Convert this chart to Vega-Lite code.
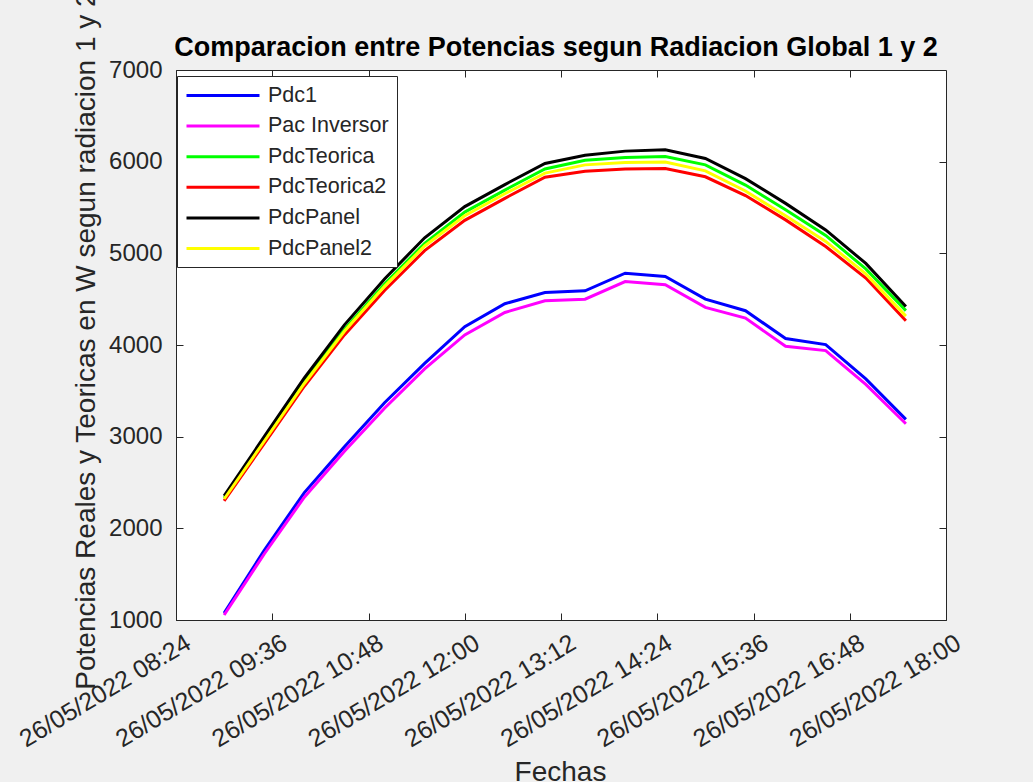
{
  "$schema": "https://vega.github.io/schema/vega-lite/v6.json",
  "autosize": {"type": "none"},
  "width": 770,
  "height": 550,
  "padding": {"left": 176, "top": 70, "right": 87, "bottom": 162},
  "background": "#f0f0f0",
  "title": {
    "text": "Comparacion entre Potencias segun Radiacion Global 1 y 2",
    "font": "Liberation Sans",
    "fontSize": 27,
    "fontWeight": "bold",
    "color": "#000000",
    "anchor": "middle",
    "baseline": "alphabetic",
    "offset": 12,
    "dy": 104,
    "dx": -5
  },
  "datasets": {
    "d": [
      {"t":"2022-05-26T09:00:00","s":"Pdc1","v":1075},{"t":"2022-05-26T09:30:00","s":"Pdc1","v":1760},{"t":"2022-05-26T10:00:00","s":"Pdc1","v":2390},{"t":"2022-05-26T10:30:00","s":"Pdc1","v":2890},{"t":"2022-05-26T11:00:00","s":"Pdc1","v":3370},{"t":"2022-05-26T11:30:00","s":"Pdc1","v":3800},{"t":"2022-05-26T12:00:00","s":"Pdc1","v":4200},{"t":"2022-05-26T12:30:00","s":"Pdc1","v":4450},{"t":"2022-05-26T13:00:00","s":"Pdc1","v":4573},{"t":"2022-05-26T13:30:00","s":"Pdc1","v":4591},{"t":"2022-05-26T14:00:00","s":"Pdc1","v":4783},{"t":"2022-05-26T14:30:00","s":"Pdc1","v":4747},{"t":"2022-05-26T15:00:00","s":"Pdc1","v":4500},{"t":"2022-05-26T15:30:00","s":"Pdc1","v":4374},{"t":"2022-05-26T16:00:00","s":"Pdc1","v":4070},{"t":"2022-05-26T16:30:00","s":"Pdc1","v":4004},{"t":"2022-05-26T17:00:00","s":"Pdc1","v":3630},{"t":"2022-05-26T17:30:00","s":"Pdc1","v":3189},
      {"t":"2022-05-26T09:00:00","s":"Pac Inversor","v":1055},{"t":"2022-05-26T09:30:00","s":"Pac Inversor","v":1720},{"t":"2022-05-26T10:00:00","s":"Pac Inversor","v":2340},{"t":"2022-05-26T10:30:00","s":"Pac Inversor","v":2840},{"t":"2022-05-26T11:00:00","s":"Pac Inversor","v":3310},{"t":"2022-05-26T11:30:00","s":"Pac Inversor","v":3740},{"t":"2022-05-26T12:00:00","s":"Pac Inversor","v":4110},{"t":"2022-05-26T12:30:00","s":"Pac Inversor","v":4355},{"t":"2022-05-26T13:00:00","s":"Pac Inversor","v":4483},{"t":"2022-05-26T13:30:00","s":"Pac Inversor","v":4500},{"t":"2022-05-26T14:00:00","s":"Pac Inversor","v":4692},{"t":"2022-05-26T14:30:00","s":"Pac Inversor","v":4657},{"t":"2022-05-26T15:00:00","s":"Pac Inversor","v":4410},{"t":"2022-05-26T15:30:00","s":"Pac Inversor","v":4293},{"t":"2022-05-26T16:00:00","s":"Pac Inversor","v":3986},{"t":"2022-05-26T16:30:00","s":"Pac Inversor","v":3939},{"t":"2022-05-26T17:00:00","s":"Pac Inversor","v":3570},{"t":"2022-05-26T17:30:00","s":"Pac Inversor","v":3141},
      {"t":"2022-05-26T09:00:00","s":"PdcTeorica","v":2330},{"t":"2022-05-26T09:30:00","s":"PdcTeorica","v":2965},{"t":"2022-05-26T10:00:00","s":"PdcTeorica","v":3600},{"t":"2022-05-26T10:30:00","s":"PdcTeorica","v":4170},{"t":"2022-05-26T11:00:00","s":"PdcTeorica","v":4665},{"t":"2022-05-26T11:30:00","s":"PdcTeorica","v":5110},{"t":"2022-05-26T12:00:00","s":"PdcTeorica","v":5450},{"t":"2022-05-26T12:30:00","s":"PdcTeorica","v":5690},{"t":"2022-05-26T13:00:00","s":"PdcTeorica","v":5920},{"t":"2022-05-26T13:30:00","s":"PdcTeorica","v":6015},{"t":"2022-05-26T14:00:00","s":"PdcTeorica","v":6045},{"t":"2022-05-26T14:30:00","s":"PdcTeorica","v":6055},{"t":"2022-05-26T15:00:00","s":"PdcTeorica","v":5965},{"t":"2022-05-26T15:30:00","s":"PdcTeorica","v":5745},{"t":"2022-05-26T16:00:00","s":"PdcTeorica","v":5475},{"t":"2022-05-26T16:30:00","s":"PdcTeorica","v":5195},{"t":"2022-05-26T17:00:00","s":"PdcTeorica","v":4830},{"t":"2022-05-26T17:30:00","s":"PdcTeorica","v":4375},
      {"t":"2022-05-26T09:00:00","s":"PdcTeorica2","v":2300},{"t":"2022-05-26T09:30:00","s":"PdcTeorica2","v":2925},{"t":"2022-05-26T10:00:00","s":"PdcTeorica2","v":3550},{"t":"2022-05-26T10:30:00","s":"PdcTeorica2","v":4110},{"t":"2022-05-26T11:00:00","s":"PdcTeorica2","v":4595},{"t":"2022-05-26T11:30:00","s":"PdcTeorica2","v":5030},{"t":"2022-05-26T12:00:00","s":"PdcTeorica2","v":5360},{"t":"2022-05-26T12:30:00","s":"PdcTeorica2","v":5600},{"t":"2022-05-26T13:00:00","s":"PdcTeorica2","v":5830},{"t":"2022-05-26T13:30:00","s":"PdcTeorica2","v":5895},{"t":"2022-05-26T14:00:00","s":"PdcTeorica2","v":5920},{"t":"2022-05-26T14:30:00","s":"PdcTeorica2","v":5925},{"t":"2022-05-26T15:00:00","s":"PdcTeorica2","v":5835},{"t":"2022-05-26T15:30:00","s":"PdcTeorica2","v":5630},{"t":"2022-05-26T16:00:00","s":"PdcTeorica2","v":5365},{"t":"2022-05-26T16:30:00","s":"PdcTeorica2","v":5075},{"t":"2022-05-26T17:00:00","s":"PdcTeorica2","v":4730},{"t":"2022-05-26T17:30:00","s":"PdcTeorica2","v":4265},
      {"t":"2022-05-26T09:00:00","s":"PdcPanel","v":2355},{"t":"2022-05-26T09:30:00","s":"PdcPanel","v":3000},{"t":"2022-05-26T10:00:00","s":"PdcPanel","v":3640},{"t":"2022-05-26T10:30:00","s":"PdcPanel","v":4220},{"t":"2022-05-26T11:00:00","s":"PdcPanel","v":4720},{"t":"2022-05-26T11:30:00","s":"PdcPanel","v":5170},{"t":"2022-05-26T12:00:00","s":"PdcPanel","v":5510},{"t":"2022-05-26T12:30:00","s":"PdcPanel","v":5750},{"t":"2022-05-26T13:00:00","s":"PdcPanel","v":5980},{"t":"2022-05-26T13:30:00","s":"PdcPanel","v":6070},{"t":"2022-05-26T14:00:00","s":"PdcPanel","v":6115},{"t":"2022-05-26T14:30:00","s":"PdcPanel","v":6130},{"t":"2022-05-26T15:00:00","s":"PdcPanel","v":6035},{"t":"2022-05-26T15:30:00","s":"PdcPanel","v":5815},{"t":"2022-05-26T16:00:00","s":"PdcPanel","v":5545},{"t":"2022-05-26T16:30:00","s":"PdcPanel","v":5255},{"t":"2022-05-26T17:00:00","s":"PdcPanel","v":4890},{"t":"2022-05-26T17:30:00","s":"PdcPanel","v":4420},
      {"t":"2022-05-26T09:00:00","s":"PdcPanel2","v":2320},{"t":"2022-05-26T09:30:00","s":"PdcPanel2","v":2950},{"t":"2022-05-26T10:00:00","s":"PdcPanel2","v":3580},{"t":"2022-05-26T10:30:00","s":"PdcPanel2","v":4150},{"t":"2022-05-26T11:00:00","s":"PdcPanel2","v":4640},{"t":"2022-05-26T11:30:00","s":"PdcPanel2","v":5080},{"t":"2022-05-26T12:00:00","s":"PdcPanel2","v":5410},{"t":"2022-05-26T12:30:00","s":"PdcPanel2","v":5650},{"t":"2022-05-26T13:00:00","s":"PdcPanel2","v":5875},{"t":"2022-05-26T13:30:00","s":"PdcPanel2","v":5965},{"t":"2022-05-26T14:00:00","s":"PdcPanel2","v":5990},{"t":"2022-05-26T14:30:00","s":"PdcPanel2","v":5995},{"t":"2022-05-26T15:00:00","s":"PdcPanel2","v":5900},{"t":"2022-05-26T15:30:00","s":"PdcPanel2","v":5680},{"t":"2022-05-26T16:00:00","s":"PdcPanel2","v":5410},{"t":"2022-05-26T16:30:00","s":"PdcPanel2","v":5130},{"t":"2022-05-26T17:00:00","s":"PdcPanel2","v":4775},{"t":"2022-05-26T17:30:00","s":"PdcPanel2","v":4315}
    ]
  },
  "data": {"name": "d"},
  "layer": [
    {
      "mark": {"type": "line", "strokeWidth": 3, "clip": true},
      "encoding": {
        "x": {
          "field": "t", "type": "temporal",
          "scale": {"domain": [{"year": 2022, "month": 5, "date": 26, "hours": 8, "minutes": 24}, {"year": 2022, "month": 5, "date": 26, "hours": 18, "minutes": 0}], "nice": false},
          "axis": {
            "orient": "bottom",
            "values": [
              {"year": 2022, "month": 5, "date": 26, "hours": 8, "minutes": 24},
              {"year": 2022, "month": 5, "date": 26, "hours": 9, "minutes": 36},
              {"year": 2022, "month": 5, "date": 26, "hours": 10, "minutes": 48},
              {"year": 2022, "month": 5, "date": 26, "hours": 12, "minutes": 0},
              {"year": 2022, "month": 5, "date": 26, "hours": 13, "minutes": 12},
              {"year": 2022, "month": 5, "date": 26, "hours": 14, "minutes": 24},
              {"year": 2022, "month": 5, "date": 26, "hours": 15, "minutes": 36},
              {"year": 2022, "month": 5, "date": 26, "hours": 16, "minutes": 48},
              {"year": 2022, "month": 5, "date": 26, "hours": 18, "minutes": 0}
            ],
            "format": "%d/%m/%Y %H:%M",
            "labelFontSize": 25,
            "labelAngle": -31,
            "labelAlign": "right",
            "labelBaseline": "top",
            "labelPadding": 17,
            "labelOffset": 6,
            "labelLimit": 400,
            "labelFlush": false,
            "labelOverlap": false,
            "title": "Fechas",
            "titleFontSize": 28,
            "titleBaseline": "top",
            "titleY": 138,
            "titleX": 384
          }
        },
        "y": {
          "field": "v", "type": "quantitative",
          "scale": {"domain": [1000, 7000], "nice": false, "zero": false},
          "axis": {
            "orient": "left",
            "values": [1000, 2000, 3000, 4000, 5000, 6000, 7000],
            "format": "d",
            "labelFontSize": 24,
            "labelPadding": 21,
            "title": "Potencias Reales y Teoricas en W segun radiacion 1 y 2",
            "titleFontSize": 28,
            "titleAngle": -90,
            "titleAlign": "center",
            "titleBaseline": "middle",
            "titleX": -90,
            "titleY": 270
          }
        },
        "color": {
          "field": "s", "type": "nominal",
          "sort": ["Pdc1", "Pac Inversor", "PdcTeorica", "PdcTeorica2", "PdcPanel", "PdcPanel2"],
          "scale": {
            "domain": ["Pdc1", "Pac Inversor", "PdcTeorica", "PdcTeorica2", "PdcPanel", "PdcPanel2"],
            "range": ["#0000ff", "#ff00ff", "#00ff00", "#ff0000", "#000000", "#ffff00"]
          },
          "legend": {
            "title": null,
            "orient": "none",
            "legendX": 1,
            "legendY": 6,
            "direction": "vertical",
            "fillColor": "#ffffff",
            "strokeColor": "#262626",
            "padding": 8,
            "symbolType": "M-1,0H6.3",
            "symbolSize": 400,
            "symbolStrokeWidth": 3,
            "labelFont": "Liberation Sans",
            "labelFontSize": 21.5,
            "labelColor": "#262626",
            "labelOffset": 60,
            "labelLimit": 300,
            "rowPadding": 8.6
          }
        }
      }
    },
    {
      "mark": {"type": "line", "opacity": 0},
      "encoding": {
        "x": {"field": "t", "type": "temporal",
          "axis": {"orient": "top", "labels": false, "title": null, "domain": false,
            "values": [
              {"year": 2022, "month": 5, "date": 26, "hours": 9, "minutes": 36},
              {"year": 2022, "month": 5, "date": 26, "hours": 10, "minutes": 48},
              {"year": 2022, "month": 5, "date": 26, "hours": 12, "minutes": 0},
              {"year": 2022, "month": 5, "date": 26, "hours": 13, "minutes": 12},
              {"year": 2022, "month": 5, "date": 26, "hours": 14, "minutes": 24},
              {"year": 2022, "month": 5, "date": 26, "hours": 15, "minutes": 36},
              {"year": 2022, "month": 5, "date": 26, "hours": 16, "minutes": 48}
            ]}},
        "y": {"field": "v", "type": "quantitative",
          "axis": {"orient": "right", "labels": false, "title": null, "domain": false,
            "values": [2000, 3000, 4000, 5000, 6000]}}
      }
    }
  ],
  "resolve": {"axis": {"x": "independent", "y": "independent"}},
  "config": {
    "view": {"fill": "#ffffff", "stroke": "#262626", "strokeWidth": 1},
    "axis": {
      "grid": false,
      "domainColor": "#262626",
      "tickColor": "#262626",
      "tickSize": -7,
      "labelFont": "Liberation Sans",
      "labelColor": "#262626",
      "titleFont": "Liberation Sans",
      "titleColor": "#262626",
      "titleFontWeight": "normal"
    }
  }
}
